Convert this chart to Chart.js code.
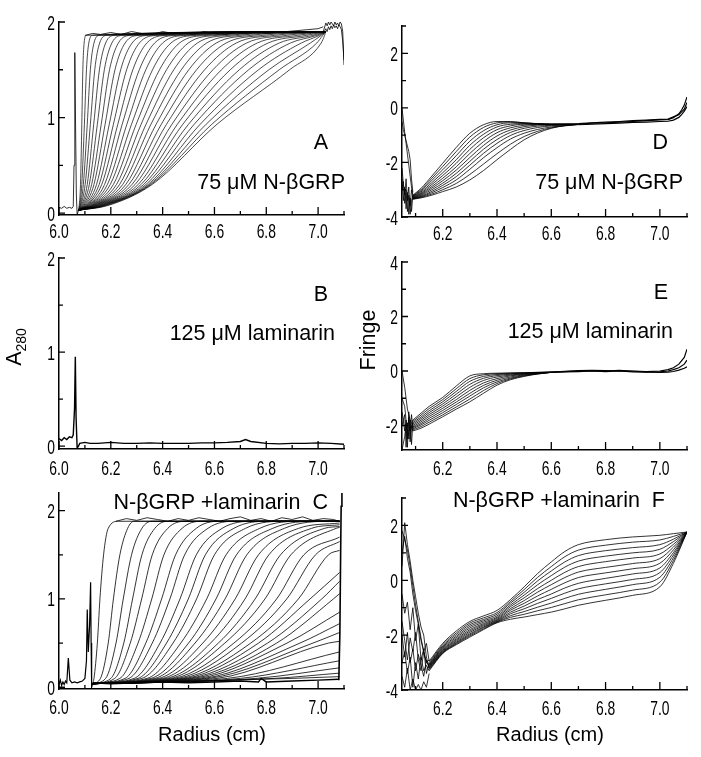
<!DOCTYPE html>
<html>
<head>
<meta charset="utf-8">
<script src="https://cdn.jsdelivr.net/npm/chart.js@4.4.1/dist/chart.umd.min.js"></script>
<style>
  body { margin: 0; background: #fff; }
  #fig { position: relative; width: 701px; height: 757px; overflow: hidden;
         font-family: "Liberation Sans", Arial, sans-serif; color: #000; }
  canvas { position: absolute; }
  .t { position: absolute; white-space: pre; font-size: 21.5px; line-height: 21px; }
  .rot { position: absolute; white-space: pre; font-size: 21.5px; text-align: center;
         transform: rotate(-90deg); transform-origin: 50% 50%; }
  .rot sub { font-size: 14px; }
</style>
</head>
<body>
<div id="fig">
  <canvas id="pA" width="350" height="245" style="left:0;top:0"></canvas>
  <canvas id="pB" width="350" height="235" style="left:0;top:245px"></canvas>
  <canvas id="pC" width="350" height="277" style="left:0;top:480px"></canvas>
  <canvas id="pD" width="351" height="245" style="left:350px;top:0"></canvas>
  <canvas id="pE" width="351" height="235" style="left:350px;top:245px"></canvas>
  <canvas id="pF" width="351" height="277" style="left:350px;top:480px"></canvas>

  <div class="t" style="right:373px;top:132px">A</div>
  <div class="t" style="right:356px;top:172px">75 μM N-βGRP</div>
  <div class="t" style="right:373px;top:284px">B</div>
  <div class="t" style="right:366px;top:323px">125 μM laminarin</div>
  <div class="t" style="right:373px;top:492px">N-βGRP +laminarin  C</div>
  <div class="t" style="right:33px;top:132px">D</div>
  <div class="t" style="right:18px;top:172px">75 μM N-βGRP</div>
  <div class="t" style="right:33px;top:282px">E</div>
  <div class="t" style="right:28px;top:321px">125 μM laminarin</div>
  <div class="t" style="right:36px;top:490px">N-βGRP +laminarin  F</div>

  <div class="rot" style="left:-16px;top:334px;width:60px;height:26px;line-height:26px">A<sub>280</sub></div>
  <div class="rot" style="left:328px;top:327px;width:80px;height:26px;line-height:26px">Fringe</div>
  <div class="t" style="left:152px;top:724px;width:120px;text-align:center;font-size:20px;line-height:20px">Radius (cm)</div>
  <div class="t" style="left:490px;top:724px;width:120px;text-align:center;font-size:20px;line-height:20px">Radius (cm)</div>
</div>

<script>
// ---------- panel A : 75 uM N-bGRP, absorbance scans ----------
// radius (cm) where each scan crosses the absorbance levels below
const aLevels = [0.08, 0.3, 0.93, 1.5, 1.78, 1.86];
const aToe = [6.078, 6.08, 6.082, 6.084, 6.087, 6.09, 6.093, 6.096, 6.099, 6.102, 6.105, 6.108, 6.111, 6.114, 6.118, 6.122, 6.126, 6.13, 6.134, 6.138, 6.142, 6.147, 6.152, 6.157, 6.162, 6.167, 6.172, 6.177, 6.183, 6.19];
const aLow = [6.083, 6.088, 6.094, 6.101, 6.109, 6.117, 6.126, 6.135, 6.145, 6.155, 6.165, 6.176, 6.187, 6.198, 6.21, 6.222, 6.234, 6.246, 6.258, 6.27, 6.282, 6.294, 6.306, 6.317, 6.327, 6.336, 6.344, 6.35, 6.355, 6.36];
const aMid = [6.088, 6.098, 6.109, 6.121, 6.134, 6.148, 6.163, 6.178, 6.194, 6.21, 6.227, 6.244, 6.262, 6.28, 6.298, 6.317, 6.336, 6.355, 6.375, 6.395, 6.415, 6.436, 6.457, 6.478, 6.5, 6.522, 6.545, 6.568, 6.59, 6.61];
const aHigh = [6.092, 6.106, 6.121, 6.138, 6.156, 6.175, 6.195, 6.216, 6.238, 6.261, 6.285, 6.31, 6.335, 6.361, 6.388, 6.415, 6.443, 6.472, 6.501, 6.531, 6.562, 6.594, 6.627, 6.661, 6.696, 6.732, 6.77, 6.81, 6.85, 6.89];
const aShoulder = [6.097, 6.115, 6.135, 6.157, 6.18, 6.204, 6.229, 6.255, 6.282, 6.31, 6.339, 6.369, 6.4, 6.432, 6.465, 6.499, 6.534, 6.57, 6.607, 6.645, 6.684, 6.724, 6.765, 6.807, 6.85, 6.893, 6.935, 6.97, 6.995, 7.012];
const aTop = [6.105, 6.13, 6.157, 6.186, 6.216, 6.247, 6.279, 6.312, 6.346, 6.381, 6.417, 6.454, 6.492, 6.531, 6.571, 6.612, 6.654, 6.697, 6.741, 6.786, 6.832, 6.878, 6.92, 6.955, 6.98, 6.995, 7.005, 7.012, 7.018, 7.025];

const aMenX = [6.0, 6.01, 6.02, 6.03, 6.04, 6.05, 6.055, 6.058, 6.061, 6.064, 6.067, 6.07, 6.075];
const aMenY = [0.06, 0.05, 0.07, 0.05, 0.06, 0.05, 0.07, 0.5, 1.68, 0.9, 0.2, -0.02, 0.03];
const aPlatX = [6.10, 6.13, 6.16, 6.2, 6.24, 6.28, 6.32, 6.36, 6.4, 6.44, 6.48, 6.52, 6.56, 6.6, 6.64, 6.68, 6.72, 6.76, 6.8, 6.84, 6.88, 6.92, 6.96, 7.0, 7.02];
const aPlatY = [1.86, 1.88, 1.87, 1.89, 1.87, 1.9, 1.88, 1.87, 1.9, 1.88, 1.89, 1.87, 1.9, 1.88, 1.87, 1.89, 1.88, 1.9, 1.88, 1.89, 1.9, 1.91, 1.92, 1.93, 1.95];
const aEndX = [7.02, 7.03, 7.035, 7.04, 7.045, 7.05, 7.055, 7.06, 7.065, 7.07, 7.075, 7.08, 7.085, 7.09, 7.095, 7.1];
const aEndHi = [1.9, 1.99, 1.96, 2.0, 1.97, 2.0, 1.98, 1.96, 2.0, 1.97, 1.99, 1.96, 2.0, 1.98, 1.9, 1.55];
const aEndLo = [1.88, 1.93, 1.9, 1.95, 1.92, 1.96, 1.93, 1.97, 1.94, 1.96, 1.93, 1.97, 1.95, 1.92, 1.8, 1.6];

// ---------- panel B : 125 uM laminarin, absorbance ----------
const bX = [6.0, 6.01, 6.02, 6.03, 6.04, 6.05, 6.055, 6.06, 6.063, 6.066, 6.07, 6.075, 6.08, 6.1, 6.12, 6.15, 6.2, 6.25, 6.3, 6.35, 6.4, 6.45, 6.5, 6.55, 6.6, 6.65, 6.7, 6.72, 6.74, 6.8, 6.85, 6.9, 6.95, 7.0, 7.05, 7.1];
const bY = [0.08, 0.06, 0.09, 0.07, 0.1, 0.09, 0.12, 0.4, 0.95, 0.3, -0.02, 0.0, 0.03, 0.04, 0.03, 0.03, 0.04, 0.03, 0.03, 0.035, 0.03, 0.03, 0.03, 0.035, 0.035, 0.04, 0.05, 0.07, 0.05, 0.03, 0.025, 0.03, 0.03, 0.035, 0.03, 0.02];

// ---------- panel C : N-bGRP + laminarin, absorbance scans ----------
const cLevels = [0.1, 0.5, 1.0, 1.5, 1.8, 1.88];
const cToe = [6.135, 6.16, 6.18, 6.20, 6.215, 6.235, 6.255, 6.27, 6.29, 6.305, 6.32, 6.34, 6.355, 6.37, 6.385, 6.40, 6.415, 6.43, 6.445, 6.46, 6.475, 6.49, 6.505, 6.52, 6.54, 6.56, 6.58, 6.61, 6.65, 6.70, 6.76, 6.83, 6.90];
const cLow = [6.148, 6.19, 6.22, 6.25, 6.275, 6.305, 6.335, 6.36, 6.39, 6.415, 6.44, 6.47, 6.5, 6.525, 6.555, 6.585, 6.615, 6.64, 6.675, 6.705, 6.74, 6.77, 6.805, 6.84, 6.88, 6.93, 6.98, 7.04, null, null, null, null, null];
const cMid = [6.158, 6.21, 6.248, 6.284, 6.319, 6.358, 6.396, 6.428, 6.467, 6.499, 6.531, 6.57, 6.606, 6.641, 6.68, 6.718, 6.757, 6.795, 6.84, 6.879, 6.924, 6.969, 7.014, 7.059, null, null, null, null, null, null, null, null, null];
const cHigh = [6.172, 6.235, 6.28, 6.32, 6.36, 6.405, 6.45, 6.485, 6.53, 6.565, 6.60, 6.645, 6.685, 6.725, 6.77, 6.81, 6.855, 6.895, 6.945, 6.99, 7.04, null, null, null, null, null, null, null, null, null, null, null, null];
const cShoulder = [6.19, 6.265, 6.32, 6.37, 6.42, 6.475, 6.53, 6.575, 6.63, 6.675, 6.72, 6.775, 6.825, 6.87, 6.925, 6.975, 7.025, 7.07, null, null, null, null, null, null, null, null, null, null, null, null, null, null, null];
const cTop = [6.23, 6.29, 6.36, 6.42, 6.49, 6.55, 6.62, 6.68, 6.75, 6.81, 6.88, 6.94, 7.0, 7.05, null, null, null, null, null, null, null, null, null, null, null, null, null, null, null, null, null, null, null];
const cEnd = [1.88, 1.88, 1.88, 1.88, 1.88, 1.88, 1.88, 1.88, 1.88, 1.88, 1.88, 1.88, 1.88, 1.88, 1.86, 1.84, 1.82, 1.81, 1.7, 1.65, 1.55, 1.3, 1.2, 1.06, 0.85, 0.72, 0.62, 0.52, 0.4, 0.3, 0.22, 0.16, 0.12];

const cMenX = [6.0, 6.005, 6.01, 6.015, 6.02, 6.025, 6.03, 6.036, 6.042, 6.05, 6.06, 6.07, 6.08, 6.09, 6.1, 6.106, 6.109, 6.113, 6.118, 6.122, 6.124, 6.126, 6.13];
const cMenY = [0.03, 0.08, 0.02, 0.06, 0.03, 0.07, 0.05, 0.33, 0.08, 0.05, 0.06, 0.05, 0.06, 0.07, 0.1, 0.3, 0.88, 0.4, 0.7, 1.19, 0.5, 0.0, 0.04];
const cBaseX = [6.13, 6.2, 6.3, 6.4, 6.5, 6.6, 6.7, 6.77, 6.78, 6.8, 6.9, 7.0, 7.08];
const cBaseY = [0.05, 0.04, 0.05, 0.06, 0.05, 0.06, 0.07, 0.06, 0.1, 0.06, 0.07, 0.08, 0.09];
const cPlatX = [6.22, 6.26, 6.3, 6.34, 6.38, 6.42, 6.46, 6.5, 6.54, 6.58, 6.62, 6.66, 6.7, 6.74, 6.78, 6.82, 6.86, 6.9, 6.94, 6.98, 7.02, 7.06, 7.08];
const cPlatY = [1.88, 1.91, 1.89, 1.92, 1.9, 1.88, 1.91, 1.89, 1.92, 1.9, 1.88, 1.91, 1.93, 1.89, 1.91, 1.88, 1.92, 1.9, 1.93, 1.89, 1.91, 1.9, 1.88];
const cWallX = [7.08, 7.084, 7.087, 7.089, 7.092];
const cWallY = [0.08, 0.6, 1.5, 2.05, 2.22];

// ---------- panel D : 75 uM N-bGRP, interference ----------
const dX = [6.09, 6.12, 6.16, 6.2, 6.25, 6.3, 6.35, 6.4, 6.45, 6.5, 6.55, 6.6, 6.65, 6.7];
const dScans = [
  [-3.2, -2.95, -2.5, -2.03, -1.45, -0.93, -0.62, -0.5, -0.5, -0.55, -0.58, -0.6, -0.6, -0.6],
  [-3.22, -3.0, -2.58, -2.15, -1.6, -1.07, -0.72, -0.55, -0.52, -0.55, -0.58, -0.6, -0.6, -0.6],
  [-3.24, -3.04, -2.66, -2.27, -1.75, -1.22, -0.84, -0.62, -0.55, -0.56, -0.58, -0.6, -0.6, -0.6],
  [-3.25, -3.08, -2.74, -2.38, -1.9, -1.37, -0.97, -0.7, -0.6, -0.58, -0.59, -0.6, -0.6, -0.6],
  [-3.27, -3.12, -2.81, -2.48, -2.03, -1.52, -1.1, -0.8, -0.66, -0.6, -0.6, -0.6, -0.6, -0.6],
  [-3.28, -3.15, -2.88, -2.58, -2.16, -1.67, -1.24, -0.91, -0.73, -0.64, -0.61, -0.61, -0.6, -0.6],
  [-3.3, -3.18, -2.94, -2.67, -2.28, -1.82, -1.38, -1.03, -0.81, -0.69, -0.63, -0.62, -0.61, -0.6],
  [-3.31, -3.21, -3.0, -2.76, -2.4, -1.96, -1.52, -1.16, -0.9, -0.75, -0.67, -0.64, -0.62, -0.6],
  [-3.32, -3.24, -3.06, -2.84, -2.52, -2.1, -1.67, -1.3, -1.01, -0.83, -0.72, -0.66, -0.63, -0.61],
  [-3.33, -3.26, -3.11, -2.92, -2.64, -2.25, -1.83, -1.46, -1.14, -0.93, -0.79, -0.7, -0.65, -0.61],
  [-3.34, -3.28, -3.16, -3.0, -2.77, -2.44, -2.06, -1.68, -1.33, -1.05, -0.86, -0.73, -0.66, -0.61],
  [-3.35, -3.3, -3.2, -3.07, -2.9, -2.64, -2.3, -1.9, -1.52, -1.17, -0.92, -0.75, -0.65, -0.6]
];
const dTailX = [6.7, 6.75, 6.8, 6.85, 6.9, 6.95, 7.0, 7.03, 7.05, 7.07, 7.08, 7.09, 7.1];
const dTails = [
  [-0.6, -0.56, -0.55, -0.52, -0.5, -0.47, -0.44, -0.43, -0.36, -0.22, -0.08, 0.1, 0.4],
  [-0.62, -0.6, -0.58, -0.56, -0.53, -0.52, -0.5, -0.49, -0.45, -0.35, -0.25, -0.12, 0.05],
  [-0.58, -0.55, -0.52, -0.5, -0.47, -0.45, -0.42, -0.41, -0.33, -0.25, -0.15, -0.05, 0.2]
];
const dMenX = [6.05, 6.055, 6.06, 6.065, 6.07, 6.075, 6.08, 6.085, 6.09];
const dMen = [
  [0.0, -0.45, -0.9, -1.3, -1.7, -2.1, -2.5, -2.9, -3.2],
  [-2.6, -3.4, -2.9, -3.7, -3.1, -3.9, -3.3, -3.8, -3.2],
  [-3.0, -2.7, -3.5, -3.0, -3.8, -3.2, -3.6, -3.0, -3.3],
  [-2.2, -2.8, -3.2, -2.6, -3.4, -2.9, -3.9, -3.4, -3.25],
  [-0.5, -0.8, -1.0, -1.2, -1.4, -1.6, -1.9, -2.6, -3.1]
];

// ---------- panel E : 125 uM laminarin, interference ----------
const eX = [6.09, 6.12, 6.15, 6.2, 6.25, 6.3, 6.35, 6.4, 6.45, 6.5, 6.55, 6.6];
const eScans = [
  [-1.8, -1.55, -1.3, -0.97, -0.55, -0.18, -0.1, -0.08, -0.07, -0.06, -0.05, -0.04],
  [-1.85, -1.62, -1.38, -1.05, -0.65, -0.28, -0.14, -0.1, -0.08, -0.07, -0.05, -0.04],
  [-1.9, -1.69, -1.46, -1.13, -0.75, -0.38, -0.2, -0.13, -0.1, -0.08, -0.06, -0.04],
  [-1.95, -1.75, -1.53, -1.21, -0.85, -0.49, -0.27, -0.17, -0.12, -0.09, -0.06, -0.05],
  [-2.0, -1.81, -1.6, -1.29, -0.95, -0.6, -0.35, -0.22, -0.15, -0.1, -0.07, -0.05],
  [-2.05, -1.87, -1.67, -1.37, -1.05, -0.71, -0.44, -0.28, -0.18, -0.12, -0.08, -0.05],
  [-2.08, -1.93, -1.74, -1.45, -1.14, -0.82, -0.53, -0.34, -0.22, -0.14, -0.09, -0.05],
  [-2.12, -1.98, -1.81, -1.53, -1.23, -0.92, -0.62, -0.4, -0.26, -0.16, -0.1, -0.05],
  [-2.16, -2.04, -1.88, -1.61, -1.32, -1.03, -0.72, -0.46, -0.29, -0.18, -0.11, -0.05],
  [-2.2, -2.1, -1.95, -1.68, -1.4, -1.13, -0.82, -0.52, -0.32, -0.2, -0.11, -0.05]
];
const eTailX = [6.6, 6.65, 6.7, 6.75, 6.8, 6.85, 6.9, 6.95, 7.0, 7.03, 7.05, 7.07, 7.09, 7.1];
const eTails = [
  [-0.04, -0.02, 0.0, 0.01, 0.0, 0.02, 0.0, -0.02, 0.0, 0.05, 0.12, 0.25, 0.5, 0.8],
  [-0.05, -0.03, -0.02, 0.0, -0.02, 0.0, -0.03, -0.04, -0.03, 0.0, 0.05, 0.12, 0.25, 0.4],
  [-0.04, -0.01, 0.01, 0.02, 0.01, 0.0, -0.01, -0.03, -0.05, -0.04, -0.02, 0.03, 0.1, 0.15]
];
const eMenX = [6.05, 6.06, 6.065, 6.07, 6.075, 6.08, 6.085, 6.09];
const eMen = [
  [0.0, -0.6, -1.0, -1.4, -1.6, -1.8, -1.9, -2.0],
  [-1.5, -2.2, -1.8, -2.5, -1.7, -2.6, -2.0, -2.2],
  [-2.0, -1.6, -2.8, -1.9, -2.4, -1.8, -2.7, -1.9],
  [-2.9, -2.4, -2.0, -2.8, -1.5, -2.2, -1.6, -2.1],
  [-1.0, -1.3, -1.8, -2.2, -2.5, -2.4, -2.0, -1.8]
];

// ---------- panel F : N-bGRP + laminarin, interference ----------
const fX = [6.15, 6.2, 6.25, 6.3, 6.35, 6.4, 6.45, 6.5, 6.55, 6.6, 6.65, 6.7, 6.8, 6.9, 7.0, 7.05, 7.1];
const fScans = [
  [-2.95, -2.3, -1.85, -1.5, -1.3, -1.1, -0.7, -0.24, 0.25, 0.67, 1.05, 1.3, 1.48, 1.58, 1.64, 1.7, 1.76],
  [-3.0, -2.35, -1.92, -1.56, -1.37, -1.18, -0.77, -0.34, 0.11, 0.5, 0.86, 1.1, 1.28, 1.39, 1.47, 1.6, 1.76],
  [-3.05, -2.4, -1.98, -1.62, -1.43, -1.24, -0.83, -0.44, -0.02, 0.34, 0.67, 0.9, 1.08, 1.19, 1.3, 1.5, 1.76],
  [-3.08, -2.44, -2.04, -1.68, -1.48, -1.3, -0.9, -0.54, -0.16, 0.17, 0.48, 0.7, 0.88, 1.0, 1.13, 1.41, 1.76],
  [-3.1, -2.48, -2.09, -1.74, -1.53, -1.35, -0.96, -0.64, -0.3, 0.0, 0.29, 0.5, 0.68, 0.81, 0.96, 1.31, 1.76],
  [-3.13, -2.52, -2.14, -1.8, -1.58, -1.39, -1.03, -0.74, -0.43, -0.16, 0.1, 0.3, 0.47, 0.61, 0.79, 1.21, 1.76],
  [-3.15, -2.55, -2.18, -1.85, -1.62, -1.43, -1.09, -0.84, -0.57, -0.33, -0.09, 0.1, 0.27, 0.42, 0.62, 1.11, 1.76],
  [-3.18, -2.58, -2.22, -1.9, -1.66, -1.46, -1.16, -0.94, -0.7, -0.5, -0.28, -0.11, 0.07, 0.23, 0.45, 1.01, 1.76],
  [-3.2, -2.61, -2.26, -1.95, -1.7, -1.49, -1.22, -1.04, -0.84, -0.66, -0.47, -0.31, -0.13, 0.03, 0.28, 0.92, 1.76],
  [-3.23, -2.63, -2.29, -1.99, -1.73, -1.51, -1.29, -1.14, -0.98, -0.83, -0.66, -0.51, -0.33, -0.16, 0.11, 0.82, 1.76],
  [-3.26, -2.65, -2.32, -2.03, -1.77, -1.53, -1.35, -1.24, -1.11, -0.99, -0.85, -0.71, -0.53, -0.36, -0.07, 0.72, 1.76],
  [-3.3, -2.67, -2.35, -2.07, -1.8, -1.55, -1.42, -1.34, -1.25, -1.16, -1.04, -0.91, -0.73, -0.55, -0.24, 0.62, 1.76]
];
const fMenX = [6.05, 6.06, 6.07, 6.08, 6.09, 6.1, 6.11, 6.12, 6.13, 6.14, 6.15];
const fMen = [
  [0.5, 2.1, 1.3, 0.7, 0.0, -0.6, -1.2, -1.7, -2.0, -2.8, -3.2],
  [1.0, 1.6, 0.8, 0.3, -0.5, -1.1, -1.6, -2.2, -2.6, -3.0, -3.1],
  [-0.5, -1.2, -0.8, -1.8, -1.0, -2.2, -1.6, -2.9, -2.5, -3.4, -3.0],
  [-2.0, -2.8, -1.9, -3.0, -2.5, -3.3, -2.7, -3.1, -3.5, -2.9, -3.2],
  [-3.0, -2.6, -3.4, -2.8, -3.9, -3.0, -3.6, -2.8, -3.3, -3.1, -3.3],
  [-1.5, -2.2, -2.9, -2.1, -2.6, -1.9, -2.9, -3.3, -2.6, -3.0, -2.9],
  [-3.5, -3.9, -3.2, -4.0, -3.6, -4.0, -3.8, -4.0, -3.7, -3.9, -3.4],
  [1.8, 1.5, 1.1, 0.5, -0.2, -0.9, -1.5, -2.1, -2.6, -2.3, -2.95]
];

// ---------- helpers ----------
function xy(xs, ys) {
  return xs.map((x, i) => ({ x: x, y: ys[i] }));
}

function levelScan(k, start, levels, cols, endX, endY) {
  const pts = [{ x: start[0], y: start[1] }];
  cols.forEach((col, i) => {
    if (col[k] != null) pts.push({ x: col[k], y: levels[i] });
  });
  pts.push({ x: endX, y: endY });
  return pts;
}

function line(pts, smooth, w) {
  return {
    data: pts, showLine: true, pointRadius: 0, borderColor: '#000',
    borderWidth: w || 0.8, fill: false, tension: 0,
    cubicInterpolationMode: smooth ? 'monotone' : 'default'
  };
}

// inward ticks (long = labelled, short = minor) and narrow tick labels
const axisMarks = {
  id: 'axisMarks',
  afterDraw(chart, args, opts) {
    const ctx = chart.ctx, x = chart.scales.x, y = chart.scales.y;
    const a = chart.chartArea;
    ctx.save();
    ctx.strokeStyle = '#000';
    ctx.lineWidth = 1.3;
    ctx.beginPath();
    opts.xMajor.forEach(v => { const p = x.getPixelForValue(v); ctx.moveTo(p, a.bottom); ctx.lineTo(p, a.bottom - 8); });
    opts.xMinor.forEach(v => { const p = x.getPixelForValue(v); ctx.moveTo(p, a.bottom); ctx.lineTo(p, a.bottom - 4); });
    opts.yMajor.forEach(v => { const p = y.getPixelForValue(v); ctx.moveTo(a.left, p); ctx.lineTo(a.left + 6, p); });
    opts.yMinor.forEach(v => { const p = y.getPixelForValue(v); ctx.moveTo(a.left, p); ctx.lineTo(a.left + 4, p); });
    ctx.stroke();

    ctx.fillStyle = '#000';
    ctx.font = '21px "Liberation Sans", Arial, sans-serif';
    ctx.textBaseline = 'alphabetic';
    ctx.textAlign = 'center';
    opts.xMajor.forEach(v => {
      ctx.save();
      ctx.translate(x.getPixelForValue(v), a.bottom + opts.xGap);
      ctx.scale(0.66, 1);
      ctx.fillText(v.toFixed(1), 0, 0);
      ctx.restore();
    });
    ctx.textAlign = 'right';
    opts.yMajor.forEach(v => {
      ctx.save();
      ctx.translate(a.left - 4, y.getPixelForValue(v) + 7.5);
      ctx.scale(0.66, 1);
      ctx.fillText(String(v), 0, 0);
      ctx.restore();
    });
    ctx.restore();
  }
};

function makePanel(id, p) {
  return new Chart(document.getElementById(id), {
    type: 'scatter',
    data: { datasets: p.lines },
    options: {
      responsive: false,
      animation: false,
      events: [],
      layout: { padding: { top: p.top, right: p.right, left: 0, bottom: 0 } },
      plugins: { legend: { display: false }, tooltip: { enabled: false }, axisMarks: p.ticks },
      scales: {
        x: {
          type: 'linear', min: p.xMin, max: 7.1,
          grid: { display: false },
          border: { color: '#000', width: 1.5 },
          ticks: { display: false },
          afterFit: s => { s.height = p.xh; }
        },
        y: {
          type: 'linear', min: p.yMin, max: p.yMax,
          grid: { display: false },
          border: { color: '#000', width: 1.5 },
          ticks: { display: false },
          afterFit: s => { s.width = p.yw; }
        }
      }
    },
    plugins: [axisMarks]
  });
}

const leftX = { xMajor: [6.0, 6.2, 6.4, 6.6, 6.8, 7.0], xMinor: [6.1, 6.3, 6.5, 6.7, 6.9, 7.1] };
const rightX = { xMajor: [6.2, 6.4, 6.6, 6.8, 7.0], xMinor: [6.1, 6.3, 6.5, 6.7, 6.9, 7.1] };

// ---------- panel A ----------
const aCols = [aToe, aLow, aMid, aHigh, aShoulder, aTop];
const aLines = [line(xy(aMenX, aMenY)), line(xy(aPlatX, aPlatY)), line(xy(aEndX, aEndHi)), line(xy(aEndX, aEndLo))];
aMid.forEach((_, k) => aLines.push(line(levelScan(k, [6.075, 0.03], aLevels, aCols, 7.03, 1.9), true, 0.7)));
makePanel('pA', {
  lines: aLines, top: 22, right: 6, xh: 30, yw: 59, xMin: 6.0, yMin: -0.02, yMax: 2,
  ticks: Object.assign({ yMajor: [0, 1, 2], yMinor: [0.5, 1.5], xGap: 23 }, leftX)
});

// ---------- panel B ----------
makePanel('pB', {
  lines: [line(xy(bX, bY), false, 1.4)], top: 13, right: 6, xh: 31, yw: 59, xMin: 6.0, yMin: -0.03, yMax: 2,
  ticks: Object.assign({ yMajor: [0, 1, 2], yMinor: [0.5, 1.5], xGap: 26 }, leftX)
});

// ---------- panel C ----------
const cCols = [cToe, cLow, cMid, cHigh, cShoulder, cTop];
const cLines = [line(xy(cMenX, cMenY), false, 1.2), line(xy(cBaseX, cBaseY), false, 1.4),
                line(xy(cPlatX, cPlatY)), line(xy(cWallX, cWallY), false, 1.6)];
cToe.forEach((_, k) => cLines.push(line(levelScan(k, [6.13, 0.04], cLevels, cCols, 7.083, cEnd[k]), true)));
makePanel('pC', {
  lines: cLines, top: 13, right: 6, xh: 68, yw: 59, xMin: 6.0, yMin: -0.02, yMax: 2.2,
  ticks: Object.assign({ yMajor: [0, 1, 2], yMinor: [0.5, 1.5], xGap: 25 }, leftX)
});

// ---------- panel D ----------
const dLines = [];
dMen.forEach(r => dLines.push(line(xy(dMenX, r))));
dTails.forEach(r => dLines.push(line(xy(dTailX, r), false, 1.2)));
dScans.forEach(r => dLines.push(line(xy(dX, r), true)));
makePanel('pD', {
  lines: dLines, top: 26, right: 14, xh: 28, yw: 52, xMin: 6.05, yMin: -4, yMax: 3,
  ticks: Object.assign({ yMajor: [-4, -2, 0, 2], yMinor: [-3, -1, 1, 3], xGap: 23 }, rightX)
});

// ---------- panel E ----------
const eLines = [];
eMen.forEach(r => eLines.push(line(xy(eMenX, r))));
eTails.forEach(r => eLines.push(line(xy(eTailX, r), false, 1.2)));
eScans.forEach(r => eLines.push(line(xy(eX, r), true)));
makePanel('pE', {
  lines: eLines, top: 17, right: 14, xh: 30, yw: 52, xMin: 6.05, yMin: -2.9, yMax: 4,
  ticks: Object.assign({ yMajor: [-2, 0, 2, 4], yMinor: [-1, 1, 3], xGap: 25 }, rightX)
});

// ---------- panel F ----------
const fLines = [];
fMen.forEach(r => fLines.push(line(xy(fMenX, r))));
fScans.forEach(r => fLines.push(line(xy(fX, r), true)));
makePanel('pF', {
  lines: fLines, top: 18, right: 14, xh: 67, yw: 52, xMin: 6.05, yMin: -4, yMax: 3,
  ticks: Object.assign({ yMajor: [-4, -2, 0, 2], yMinor: [-3, -1, 1, 3], xGap: 25 }, rightX)
});
</script>
</body>
</html>
